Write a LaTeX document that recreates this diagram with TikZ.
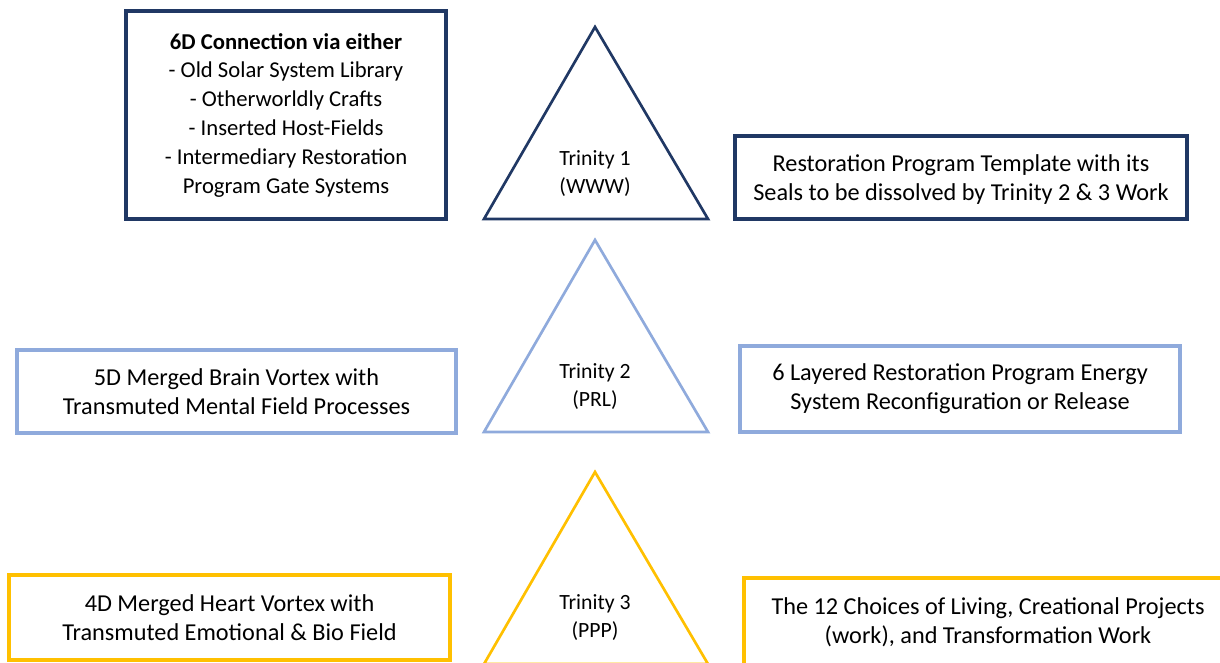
\documentclass[tikz,border=0pt]{standalone}
\usepackage{fontspec}
\setmainfont{Carlito}
\definecolor{navy}{HTML}{203864}
\definecolor{skyblue}{HTML}{8FAADC}
\definecolor{amber}{HTML}{FFC000}
\tikzset{
  textbox/.style={draw, rectangle, inner sep=0pt, align=center, line width=2.3pt,
    font=\fontsize{18.2}{21.75}\selectfont},
  tri/.style={line width=2pt, line join=miter},
  trilabel/.style={align=center, inner sep=0pt, font=\fontsize{16.3}{21}\selectfont},
}
\begin{document}
\begin{tikzpicture}[x=0.75pt, y=-0.75pt]
\clip (0,0) rectangle (1220,662);
\fill[white] (0,0) rectangle (1220,662);

% Trinity 1 (dark blue)
\node[textbox, draw=navy, font=\fontsize{17}{21.6}\selectfont,
  minimum width={320*0.75pt}, minimum height={208*0.75pt}]
  (sixd) at (286,115) {\textbf{6D Connection via either}\\- Old Solar System Library\\- Otherworldly Crafts\\- Inserted Host-Fields\\- Intermediary Restoration\\Program Gate Systems};
\coordinate (t1a) at (595,27);
\coordinate (t1l) at (484,219);
\coordinate (t1r) at (708,219);
\draw[tri, navy] (t1a) -- (t1l) -- (t1r) -- cycle;
\node[trilabel] (t1) at (595,173.5) {Trinity 1\\(WWW)};
\node[textbox, draw=navy, minimum width={452*0.75pt}, minimum height={83*0.75pt}]
  (template) at (961,177.5) {};
\node[textbox, draw=none] (templatetext) at (961,179.5) {Restoration Program Template with its\\Seals to be dissolved by Trinity 2 \& 3 Work};

% Trinity 2 (light blue)
\node[textbox, draw=skyblue, minimum width={439*0.75pt}, minimum height={83*0.75pt}]
  (fived) at (236.5,391.5) {5D Merged Brain Vortex with\\Transmuted Mental Field Processes};
\coordinate (t2a) at (595,240);
\coordinate (t2l) at (484,432);
\coordinate (t2r) at (708,432);
\draw[tri, skyblue] (t2a) -- (t2l) -- (t2r) -- cycle;
\node[trilabel] (t2) at (595,387) {Trinity 2\\(PRL)};
\node[textbox, draw=skyblue, minimum width={440*0.75pt}, minimum height={86*0.75pt}]
  (layered) at (960,389) {6 Layered Restoration Program Energy\\System Reconfiguration or Release};

% Trinity 3 (amber)
\node[textbox, draw=amber, line width=2.6pt, minimum width={441*0.75pt}, minimum height={85*0.75pt}]
  (fourd) at (229.5,617.5) {4D Merged Heart Vortex with\\Transmuted Emotional \& Bio Field};
\coordinate (t3a) at (595,472);
\coordinate (t3l) at (484,664);
\coordinate (t3r) at (708,664);
\draw[tri, amber] (t3a) -- (t3l) -- (t3r) -- cycle;
\node[trilabel] (t3) at (595,618) {Trinity 3\\(PPP)};
\node[textbox, draw=amber, line width=2.6pt, minimum width={488*0.75pt}, minimum height={88*0.75pt}]
  (choices) at (988,622) {The 12 Choices of Living, Creational Projects\\(work), and Transformation Work};
\end{tikzpicture}
\end{document}
